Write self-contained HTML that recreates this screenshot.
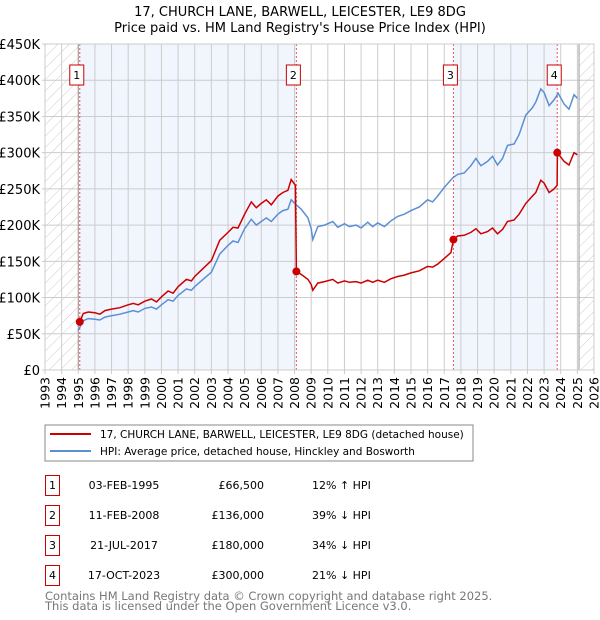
<!DOCTYPE html>
<html><head><meta charset="utf-8"><style>
body{margin:0;background:#fff;font-family:"DejaVu Sans","Liberation Sans",sans-serif;}
svg{display:block}
</style></head><body>
<svg id="c" width="600" height="620" xmlns="http://www.w3.org/2000/svg" font-family="DejaVu Sans, Liberation Sans, sans-serif">
<defs><pattern id="hatch" width="8" height="8" patternUnits="userSpaceOnUse" patternTransform="rotate(45)"><line x1="0" y1="0" x2="0" y2="8" stroke="#ccc" stroke-width="1"/></pattern></defs>
<text x="300" y="16" text-anchor="middle" font-size="13">17, CHURCH LANE, BARWELL, LEICESTER, LE9 8DG</text>
<text x="300" y="32" text-anchor="middle" font-size="13">Price paid vs. HM Land Registry's House Price Index (HPI)</text>
<g id="plot"></g>
<rect x="45" y="425" width="428" height="36" fill="#fff" stroke="#888"/>
<line x1="50" y1="434" x2="91" y2="434" stroke="#cc0000" stroke-width="2"/>
<text x="100" y="438" font-size="10.5">17, CHURCH LANE, BARWELL, LEICESTER, LE9 8DG (detached house)</text>
<line x1="50" y1="451" x2="91" y2="451" stroke="#5b8fd4" stroke-width="2"/>
<text x="100" y="455" font-size="10.5">HPI: Average price, detached house, Hinckley and Bosworth</text>
<g id="table" font-size="11"></g>
<text x="45" y="600" font-size="11.5" fill="#777">Contains HM Land Registry data © Crown copyright and database right 2025.</text>
<text x="45" y="610" font-size="11.5" fill="#777">This data is licensed under the Open Government Licence v3.0.</text>
</svg>
<script>
const yearTicks=[1993,1994,1995,1996,1997,1998,1999,2000,2001,2002,2003,2004,2005,2006,2007,2008,2009,2010,2011,2012,2013,2014,2015,2016,2017,2018,2019,2020,2021,2022,2023,2024,2025,2026];
const valueTicks=[0,50,100,150,200,250,300,350,400,450];
const valueTickLabels=["£0","£50K","£100K","£150K","£200K","£250K","£300K","£350K","£400K","£450K"];
const hpiDates=[1995.0,1995.3,1995.6,1996.0,1996.3,1996.6,1997.0,1997.5,1998.0,1998.3,1998.6,1999.0,1999.4,1999.7,2000.0,2000.4,2000.7,2001.0,2001.5,2001.8,2002.0,2002.5,2003.0,2003.5,2004.0,2004.3,2004.6,2005.0,2005.4,2005.7,2006.0,2006.3,2006.6,2007.0,2007.3,2007.6,2007.8,2008.1,2008.4,2008.8,2009.0,2009.1,2009.4,2009.8,2010.3,2010.6,2011.0,2011.3,2011.7,2012.0,2012.4,2012.7,2013.0,2013.4,2013.8,2014.2,2014.6,2015.0,2015.5,2016.0,2016.3,2016.6,2017.0,2017.5,2017.8,2018.2,2018.6,2018.9,2019.2,2019.6,2019.9,2020.2,2020.5,2020.8,2021.2,2021.5,2021.9,2022.3,2022.5,2022.8,2023.0,2023.3,2023.6,2023.85,2024.2,2024.5,2024.8,2025.0];
const hpiValues=[55,68,71,70,69,73,75,77,80,82,80,85,87,84,90,97,95,103,112,110,115,125,135,160,172,178,176,195,208,200,205,210,205,215,220,222,235,228,222,210,195,180,198,200,205,197,202,198,200,196,204,198,203,198,206,212,215,220,225,235,232,240,252,265,270,272,282,292,282,288,295,283,292,310,312,325,352,362,370,388,383,365,373,382,367,360,380,375];
const priceDates=[1995.09,1995.3,1995.6,1996.0,1996.3,1996.6,1997.0,1997.5,1998.0,1998.3,1998.6,1999.0,1999.4,1999.7,2000.0,2000.4,2000.7,2001.0,2001.5,2001.8,2002.0,2002.5,2003.0,2003.5,2004.0,2004.3,2004.6,2005.0,2005.4,2005.7,2006.0,2006.3,2006.6,2007.0,2007.3,2007.6,2007.8,2008.05,2008.11,2008.4,2008.8,2009.0,2009.1,2009.4,2009.8,2010.3,2010.6,2011.0,2011.3,2011.7,2012.0,2012.4,2012.7,2013.0,2013.4,2013.8,2014.2,2014.6,2015.0,2015.5,2016.0,2016.3,2016.6,2017.0,2017.4,2017.55,2017.8,2018.2,2018.6,2018.9,2019.2,2019.6,2019.9,2020.2,2020.5,2020.8,2021.2,2021.5,2021.9,2022.3,2022.5,2022.8,2023.0,2023.3,2023.6,2023.78,2023.8,2024.2,2024.5,2024.8,2025.0];
const priceValues=[66.5,78,80,79,77,82,84,86,90,92,90,95,98,94,101,109,106,115,125,123,129,140,151,179,190,197,196,215,232,224,230,235,228,240,245,248,263,255,136,132,125,118,110,120,122,125,120,123,121,122,120,124,121,124,121,126,129,131,134,137,143,142,146,154,162,180,185,186,190,195,188,191,196,188,194,205,207,215,230,240,245,262,258,245,250,255,300,288,283,300,297];
const saleDates=[1995.09,2008.11,2017.55,2023.79];
const saleValues=[66.5,136,180,300];
const saleLabels=["1","2","3","4"];
const saleDateText=["03-FEB-1995","11-FEB-2008","21-JUL-2017","17-OCT-2023"];
const salePriceText=["£66,500","£136,000","£180,000","£300,000"];
const saleHpiText=["12% ↑ HPI","39% ↓ HPI","34% ↓ HPI","21% ↓ HPI"];

const X0=45,X1=594,Y0=370,Y1=44,xmin=1993,xmax=2026,ymax=450;
const sx=v=>X0+(v-xmin)/(xmax-xmin)*(X1-X0);
const sy=v=>Y0-v/ymax*(Y0-Y1);
const NS="http://www.w3.org/2000/svg";
const plot=document.getElementById('plot');
function mk(tag,attrs,parent){const e=document.createElementNS(NS,tag);for(const k in attrs)e.setAttribute(k,attrs[k]);(parent||plot).appendChild(e);return e;}
let e=mk('rect',{x:X0,y:Y1,width:X1-X0,height:Y0-Y1,fill:'#fff'});


for(let i=0;i<saleDates.length;i+=2){
 const a=saleDates[i],b=saleDates[i+1];
 e=mk('rect',{x:sx(a),y:Y1,width:sx(b)-sx(a),height:Y0-Y1,fill:'#eef3fc',opacity:0.8});
 
 
}
e=mk('rect',{x:X0,y:Y1,width:sx(1995.0)-X0,height:Y0-Y1,fill:'url(#hatch)'});


e=mk('rect',{x:sx(2025.1),y:Y1,width:X1-sx(2025.1),height:Y0-Y1,fill:'url(#hatch)'});


yearTicks.forEach(y=>{
 e=mk('line',{x1:sx(y),x2:sx(y),y1:Y1,y2:Y0+4,stroke:'#ccc'});
 
 
 e=mk('text',{x:0,y:0,'font-size':12.5,'text-anchor':'end',transform:`translate(${sx(y)+4.5},${Y0+7}) rotate(-90)`});
 e.textContent=y;
 
 
});
valueTicks.forEach((v,i)=>{
 e=mk('line',{x1:X0-3,x2:X1,y1:sy(v),y2:sy(v),stroke:'#ccc'});
 
 
 e=mk('text',{x:X0-5,y:sy(v)+5,'font-size':13,'text-anchor':'end'});
 e.textContent=valueTickLabels[i];
 
 
});
e=mk('line',{x1:sx(1995.0),x2:sx(1995.0),y1:Y1,y2:Y0,stroke:'#999'});


e=mk('line',{x1:sx(2025.1),x2:sx(2025.1),y1:Y1,y2:Y0,stroke:'#999'});


saleDates.forEach((d,i)=>{
 e=mk('line',{x1:sx(d),x2:sx(d),y1:Y1,y2:Y0,stroke:'#e55',"stroke-dasharray":'2,2'});
 
 
});
const pts=(ds,vs)=>ds.map((d,i)=>sx(d).toFixed(1)+','+sy(vs[i]).toFixed(1)).join(' ');
e=mk('polyline',{points:pts(hpiDates,hpiValues),fill:'none',stroke:'#5b8fd4','stroke-width':1.5});


e=mk('polyline',{points:pts(priceDates,priceValues),fill:'none',stroke:'#cc0000','stroke-width':1.5});


saleDates.forEach((d,i)=>{
 e=mk('circle',{cx:sx(d),cy:sy(saleValues[i]),r:4,fill:'#cc0000'});
 
 
 const bx=sx(d)-10;
 e=mk('rect',{x:bx,y:65,width:14,height:20,fill:'#fff',stroke:'#cc0000'});
 
 
 e=mk('text',{x:bx+7,y:79,'font-size':11,'text-anchor':'middle'});
 e.textContent=saleLabels[i];
 
 
});
e=mk('rect',{x:X0,y:Y1,width:X1-X0,height:Y0-Y1,fill:'none',stroke:'#ccc'});
const tbl=document.getElementById('table');
saleLabels.forEach((l,i)=>{
 const y=475+i*30;
 e=mk('rect',{x:45.5,y:y+0.5,width:14,height:20,fill:'#fff',stroke:'#cc0000'},tbl);
 
 
 e=mk('text',{x:52.5,y:y+14},tbl);e.setAttribute('text-anchor','middle');e.textContent=l;
 
 
 e=mk('text',{x:124,y:y+14,'text-anchor':'middle'},tbl);e.textContent=saleDateText[i];
 
 
 e=mk('text',{x:264,y:y+14,'text-anchor':'end'},tbl);e.textContent=salePriceText[i];
 
 
 e=mk('text',{x:312,y:y+14},tbl);e.textContent=saleHpiText[i];
 
 
});
</script>
</body></html>
